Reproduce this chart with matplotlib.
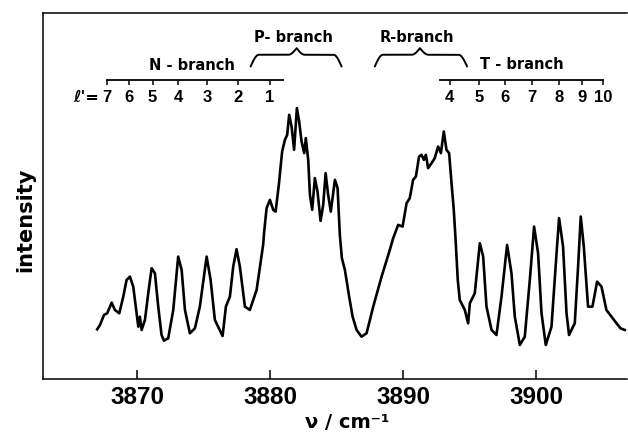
import numpy as np
import matplotlib
matplotlib.use("Agg")
import matplotlib.pyplot as plt

# spectrum (wavenumber / cm-1, intensity in arbitrary units 0-100)
wavenumber = [
    3866.99, 3867.20, 3867.50, 3867.74, 3868.08, 3868.32, 3868.65, 3868.95, 3869.20, 3869.45,
    3869.70, 3869.95, 3870.08, 3870.20, 3870.33, 3870.58, 3870.83, 3871.08, 3871.33, 3871.58,
    3871.83, 3872.01, 3872.33, 3872.71, 3873.08, 3873.34, 3873.59, 3873.96, 3874.34, 3874.71,
    3875.22, 3875.52, 3875.84, 3876.42, 3876.67, 3876.97, 3877.22, 3877.47, 3877.72, 3878.10,
    3878.47, 3878.98, 3879.47, 3879.55, 3879.73, 3879.98, 3880.23, 3880.41, 3880.65, 3880.90,
    3881.11, 3881.28, 3881.43, 3881.61, 3881.80, 3882.01, 3882.18, 3882.36, 3882.56, 3882.68,
    3882.86, 3882.99, 3883.16, 3883.36, 3883.56, 3883.79, 3883.99, 3884.17, 3884.36, 3884.56,
    3884.87, 3885.07, 3885.24, 3885.39, 3885.62, 3885.94, 3886.20, 3886.50, 3886.87, 3887.25,
    3887.75, 3888.38, 3889.00, 3889.25, 3889.63, 3889.96, 3890.26, 3890.50, 3890.75, 3890.96,
    3891.20, 3891.38, 3891.56, 3891.71, 3891.88, 3892.14, 3892.38, 3892.63, 3892.84, 3893.06,
    3893.26, 3893.46, 3893.64, 3893.81, 3893.94, 3894.11, 3894.26, 3894.64, 3894.89, 3895.02,
    3895.39, 3895.77, 3896.02, 3896.27, 3896.65, 3897.02, 3897.40, 3897.82, 3898.15, 3898.40,
    3898.78, 3899.15, 3899.53, 3899.85, 3900.15, 3900.41, 3900.73, 3901.16, 3901.54, 3901.73,
    3902.03, 3902.29, 3902.48, 3902.91, 3903.16, 3903.36, 3903.59, 3903.91, 3904.24, 3904.59,
    3904.92, 3905.29, 3905.67, 3906.05, 3906.35, 3906.67,
]
intensity = [
    13.66, 14.84, 17.57, 18.03, 20.93, 18.93, 18.03, 22.57, 27.13, 28.03,
    25.30, 18.03, 14.37, 17.10, 13.47, 16.20, 23.50, 30.33, 28.96, 19.84,
    12.10, 10.55, 11.20, 18.93, 33.50, 29.86, 18.93, 12.57, 13.93, 19.84,
    33.50, 27.13, 16.20, 11.83, 19.84, 22.57, 30.77, 35.52, 30.77, 19.84,
    18.93, 24.40, 36.69, 40.33, 46.72, 48.99, 46.26, 45.79, 53.09, 62.19,
    65.38, 66.75, 72.21, 69.02, 62.65, 74.04, 70.38, 64.92, 61.75, 65.85,
    59.92, 50.36, 46.26, 54.92, 51.26, 43.25, 47.62, 56.28, 50.36, 45.79,
    54.45, 52.19, 39.43, 33.14, 29.86, 22.57, 17.10, 13.47, 11.64, 12.57,
    19.84, 28.03, 35.33, 38.52, 42.16, 41.69, 48.09, 49.45, 54.45, 55.36,
    60.82, 61.28, 59.92, 61.28, 57.65, 59.02, 60.38, 63.55, 61.75, 67.65,
    62.65, 61.75, 53.55, 46.26, 38.52, 27.13, 21.67, 18.93, 15.30, 20.77,
    23.50, 37.16, 33.50, 19.84, 13.47, 12.10, 22.57, 36.69, 28.96, 17.10,
    9.37, 11.64, 27.13, 41.69, 34.43, 18.03, 9.37, 14.37, 34.43, 43.99,
    36.23, 18.03, 12.10, 15.30, 30.77, 44.43, 36.23, 19.84, 19.84, 26.67,
    25.30, 18.93, 17.10, 15.30, 13.93, 13.47,
]

# rotational assignment combs
n_labels = ["7", "6", "5", "4", "3", "2", "1"]
n_pos = [3867.74, 3869.38, 3871.16, 3873.08, 3875.26, 3877.59, 3879.98]
n_line_end = 3880.96
t_labels = ["4", "5", "6", "7", "8", "9", "10"]
t_pos = [3893.51, 3895.71, 3897.70, 3899.70, 3901.73, 3903.46, 3905.04]
t_line_start = 3892.81

# braces (start, tip, end)
p_brace = (3878.53, 3881.99, 3885.37)
r_brace = (3887.87, 3891.26, 3894.81)

digits = ["Liberation Sans", "DejaVu Sans"]
sans = ["DejaVu Sans"]

fig = plt.figure(figsize=(6.28, 4.33), dpi=100)
ax = fig.add_axes([0.068, 0.124, 0.930, 0.846])

ax.plot(wavenumber, intensity, color="black", lw=1.9, solid_joinstyle="round")

ax.set_xlim(3862.89, 3906.82)
ax.set_ylim(0, 100)
ax.set_xticks([3870, 3880, 3890, 3900])
ax.set_yticks([])
ax.tick_params(axis="x", direction="in", length=6.5, width=1.1, pad=4.5)
for lab in ax.get_xticklabels():
    lab.set_family(digits)
    lab.set_fontweight("bold")
    lab.set_fontsize(17.5)
ax.spines["right"].set_visible(False)
for s in ["left", "bottom", "top"]:
    ax.spines[s].set_linewidth(1.1)

comb_y = 81.6
tick_drop = 1.3
lab_y = 76.8

# N-branch comb
ax.plot([n_pos[0], n_line_end], [comb_y, comb_y], color="black", lw=1.3)
ax.vlines(n_pos, comb_y - tick_drop, comb_y, color="black", lw=1.1)
for p, l in zip(n_pos, n_labels):
    ax.text(p, lab_y, l, ha="center", va="center", family=digits, fontweight="bold", fontsize=12)
ax.text(3867.1, lab_y, "ℓ'=", ha="right", va="center", family=sans, fontweight="bold",
        fontsize=11.5, style="italic")

# T-branch comb
ax.plot([t_line_start, t_pos[-1]], [comb_y, comb_y], color="black", lw=1.3)
ax.vlines(t_pos, comb_y - tick_drop, comb_y, color="black", lw=1.1)
for p, l in zip(t_pos, t_labels):
    ax.text(p, lab_y, l, ha="center", va="center", family=digits, fontweight="bold", fontsize=12)


def brace(x0, xm, x1, y_end, y_arm, y_tip):
    # over-brace: curled ends, flat arms, pointed centre
    t = np.linspace(0, 1, 80)
    left_x = x0 + (xm - x0) * t
    right_x = xm + (x1 - xm) * t
    left_y = np.where(t < 0.18, y_end + (y_arm - y_end) * np.sin(t / 0.18 * np.pi / 2),
                      np.where(t > 0.82, y_arm + (y_tip - y_arm) * (1 - np.cos((t - 0.82) / 0.18 * np.pi / 2)),
                               y_arm))
    ax.plot(np.concatenate([left_x, right_x]), np.concatenate([left_y, left_y[::-1]]),
            color="black", lw=1.4, solid_capstyle="round")


brace(*p_brace, 85.4, 88.6, 90.4)
brace(*r_brace, 85.4, 88.6, 90.4)

ax.text(3874.11, 85.6, "N - branch", ha="center", va="center", family=sans, fontweight="bold", fontsize=10.5)
ax.text(3881.78, 93.2, "P- branch", ha="center", va="center", family=sans, fontweight="bold", fontsize=10.5)
ax.text(3891.07, 93.2, "R-branch", ha="center", va="center", family=sans, fontweight="bold", fontsize=10.5)
ax.text(3898.90, 85.9, "T - branch", ha="center", va="center", family=sans, fontweight="bold", fontsize=10.5)

fig.text(25 / 628, 1 - 220 / 433, "intensity", rotation=90, ha="center", va="center",
         family=sans, fontweight="bold", fontsize=15)
fig.text(347 / 628, 1 - 423 / 433, "ν / cm⁻¹", ha="center", va="center",
         family=sans, fontweight="bold", fontsize=14)

fig.savefig("out.png", dpi=100)
